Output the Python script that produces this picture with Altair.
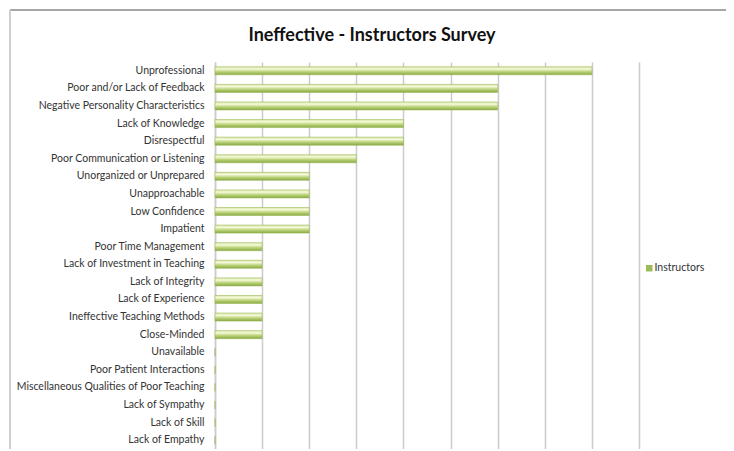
import altair as alt
import pandas as pd

categories = ["Unprofessional", "Poor and/or Lack of Feedback", "Negative Personality Characteristics",
              "Lack of Knowledge", "Disrespectful", "Poor Communication or Listening",
              "Unorganized or Unprepared", "Unapproachable", "Low Confidence", "Impatient",
              "Poor Time Management", "Lack of Investment in Teaching", "Lack of Integrity",
              "Lack of Experience", "Ineffective Teaching Methods", "Close-Minded", "Unavailable",
              "Poor Patient Interactions", "Miscellaneous Qualities of Poor Teaching",
              "Lack of Sympathy", "Lack of Skill", "Lack of Empathy"]
instructors = [8, 6, 6, 4, 4, 3, 2, 2, 2, 2, 1, 1, 1, 1, 1, 1, 0, 0, 0, 0, 0, 0]
series_name = "Instructors"
x_ticks = list(range(0, 10))

df = pd.DataFrame({"category": categories, "value": instructors, "series": series_name})

FONT = "Lato"

x_enc = alt.X("value:Q", scale=alt.Scale(domain=[0, 9], nice=False),
              axis=alt.Axis(values=x_ticks, labels=False, ticks=False, domain=False,
                            grid=True, gridColor="#cccccc", gridWidth=1.5, title=None))
y_enc = alt.Y("category:N", sort=categories,
              scale=alt.Scale(paddingInner=0, paddingOuter=0),
              axis=alt.Axis(title=None, ticks=False, domain=True, domainColor="#cccccc",
                            domainWidth=1.5, labelFont=FONT, labelFontSize=10.5,
                            labelColor="#333333", labelPadding=11, labelLimit=400))

grad = alt.Gradient(
    gradient="linear", x1=0, x2=0, y1=0, y2=1,
    stops=[alt.GradientStop(color="#dce8ac", offset=0),
           alt.GradientStop(color="#f5f9da", offset=0.28),
           alt.GradientStop(color="#bdd47c", offset=0.6),
           alt.GradientStop(color="#88a944", offset=1)])

bars = alt.Chart(df).mark_bar(size=8, fill=grad, stroke="#9ab857", strokeWidth=0.6).encode(
    x=x_enc, y=y_enc)

legend_layer = alt.Chart(df).mark_bar(size=8, opacity=0).encode(
    x=x_enc, y=y_enc,
    color=alt.Color("series:N", scale=alt.Scale(range=["#9bbb59"]),
                    legend=alt.Legend(title=None, orient="none", legendX=429, legendY=201,
                                      symbolType="square", symbolSize=42, symbolOpacity=1,
                                      symbolStrokeWidth=0, labelFont=FONT, labelFontSize=10.5,
                                      labelColor="#333333", labelOffset=0)))

frame_top = alt.Chart(df).mark_rule(color="#a6a6a6", strokeWidth=1.5).encode(
    x=alt.value(-205), x2=alt.value(530), y=alt.value(-52))
frame_left = alt.Chart(df).mark_rule(color="#cfcfcf", strokeWidth=2).encode(
    x=alt.value(-205), y=alt.value(-52), y2=alt.value(392))

chart = alt.layer(bars, legend_layer, frame_top, frame_left).properties(
    width=424, height=387,
    title=alt.Title("Ineffective - Instructors Survey", font=FONT, fontSize=18, fontWeight="bold",
                    color="#111111", anchor="middle", dx=-55, offset=0, dy=36),
    autosize=alt.AutoSizeParams(type="none"),
    padding={"left": 207, "top": 54, "right": 87, "bottom": 0},
).configure_view(stroke=None)

chart.save("out.html", embed_options={"renderer": "svg", "actions": False})
